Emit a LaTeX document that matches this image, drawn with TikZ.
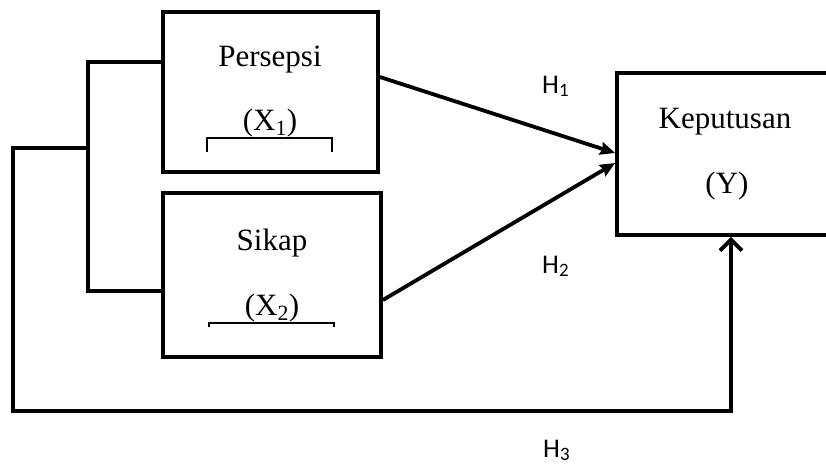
\documentclass[tikz,border=0pt]{standalone}
\usepackage{fontspec}
\setmainfont{Liberation Serif}
\newfontfamily\hfont{Carlito}
\usetikzlibrary{arrows.meta}
\begin{document}
\begin{tikzpicture}[x=1pt,y=-1pt,
  box/.style={draw,line width=3.8pt,rectangle,inner sep=0pt},
  conn/.style={line width=3.8pt},
  thinline/.style={line width=1.3pt},
  lbl/.style={inner sep=0pt,font=\fontsize{31}{36}\selectfont},
  hl/.style={inner sep=0pt,font=\hfont\fontsize{27}{30}\selectfont},
  tipin/.style={-{Stealth[length=15pt,width=13pt,inset=2pt]}},
  tipup/.style={-{Straight Barb[length=11pt,width=22pt]}}]
\useasboundingbox (0,0) rectangle (826,466);
\clip (0,0) rectangle (826,466);
\fill[white] (0,0) rectangle (826,466);
% boxes
\node[box,minimum width=215pt,minimum height=160pt] (x1) at (270.5,92) {};
\node[box,minimum width=218pt,minimum height=164pt] (x2) at (272,275) {};
\node[box,minimum width=222pt,minimum height=162pt] (y) at (728,154) {};
% texts
\node[lbl,anchor=base] (t1) at (270,66) {Persepsi};
\node[lbl,anchor=base] (t1s) at (270,130) {(X\textsubscript{1})};
\node[lbl,anchor=base] (t2) at (272,250) {Sikap};
\node[lbl,anchor=base] (t2s) at (272,315) {(X\textsubscript{2})};
\node[lbl,anchor=base] (t3) at (725,128) {Keputusan};
\node[lbl,anchor=base] (t3s) at (727,193) {(Y)};
% bracket marks
\draw[thinline] (207,152) -- (207,138) -- (332,138) -- (332,152);
\draw[thinline] (209,327) -- (209,323) -- (334,323) -- (334,327);
% junction coordinates
\coordinate (j1) at (88,62);
\coordinate (j2) at (88,291);
\coordinate (j3) at (88,148);
\coordinate (c1) at (13,148);
\coordinate (c2) at (13,411);
\coordinate (c3) at (731,411);
% connectors
\draw[conn] (x1.west |- j1) -- (j1) -- (j2) -- (x2.west |- j2);
\draw[conn,tipup] (j3) -- (c1) -- (c2) -- (c3) -- (y.south -| c3);
\draw[conn,tipin] ([yshift=15pt]x1.east) -- ([yshift=1pt]y.west);
\draw[conn,tipin] ([yshift=-25pt]x2.east) -- ([yshift=-9pt]y.west);
% hypothesis labels
\node[hl,anchor=base west] (h1) at (542,93) {H\textsubscript{1}};
\node[hl,anchor=base west] (h2) at (542,273) {H\textsubscript{2}};
\node[hl,anchor=base west] (h3) at (543,457) {H\textsubscript{3}};
\end{tikzpicture}
\end{document}
